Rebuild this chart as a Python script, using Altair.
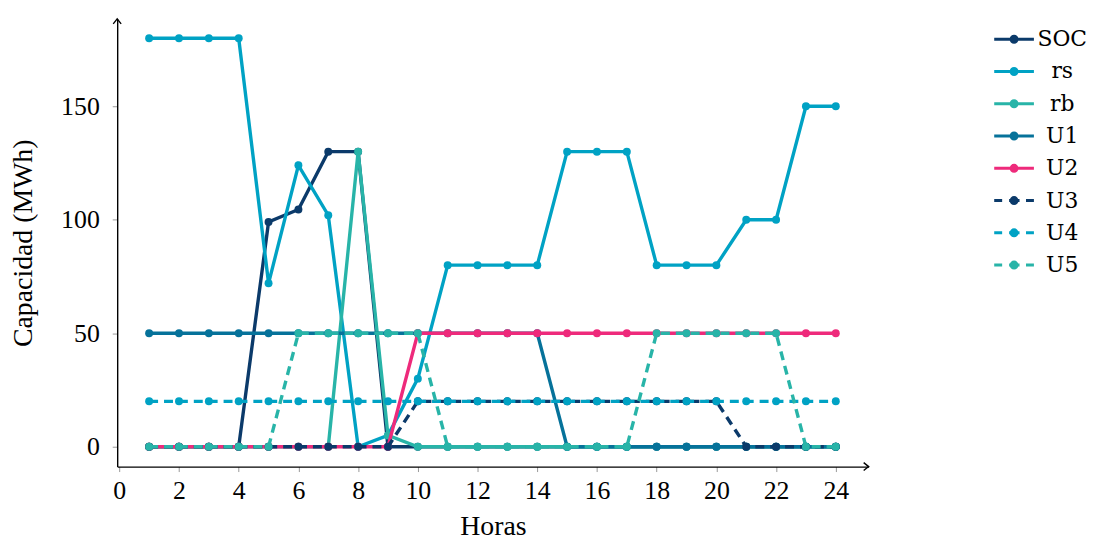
import altair as alt
import pandas as pd

# ---------------- data ----------------
hours = list(range(1, 25))
series_names = ["SOC", "rs", "rb", "U1", "U2", "U3", "U4", "U5"]

soc = [0, 0, 0, 0, 99, 104.5, 130, 130, 0, 0, 0, 0, 0, 0, 0, 0, 0, 0, 0, 0, 0, 0, 0, 0]
rs = [180, 180, 180, 180, 72, 124, 102, 0, 5, 30, 80, 80, 80, 80, 130, 130, 130, 80, 80, 80, 100, 100, 150, 150]
rb = [0, 0, 0, 0, 0, 0, 0, 130, 5, 0, 0, 0, 0, 0, 0, 0, 0, 0, 0, 0, 0, 0, 0, 0]
u1 = [50, 50, 50, 50, 50, 50, 50, 50, 50, 50, 50, 50, 50, 50, 0, 0, 0, 0, 0, 0, 0, 0, 0, 0]
u2 = [0, 0, 0, 0, 0, 0, 0, 0, 0, 50, 50, 50, 50, 50, 50, 50, 50, 50, 50, 50, 50, 50, 50, 50]
u3 = [0, 0, 0, 0, 0, 0, 0, 0, 0, 20, 20, 20, 20, 20, 20, 20, 20, 20, 20, 20, 0, 0, 0, 0]
u4 = [20, 20, 20, 20, 20, 20, 20, 20, 20, 20, 20, 20, 20, 20, 20, 20, 20, 20, 20, 20, 20, 20, 20, 20]
u5 = [0, 0, 0, 0, 0, 50, 50, 50, 50, 50, 0, 0, 0, 0, 0, 0, 0, 50, 50, 50, 50, 50, 0, 0]

series_values = [soc, rs, rb, u1, u2, u3, u4, u5]
series_colors = ["#0b3a6a", "#00a2c4", "#28b4a8", "#06729a", "#ee2a7b", "#0b3a6a", "#00a2c4", "#28b4a8"]
series_dashed = [False, False, False, False, False, True, True, True]

x_ticks = list(range(0, 25, 2))
y_ticks = [0, 50, 100, 150]
x_domain = [-0.07, 25.1]
y_domain = [-8.75, 188.5]

# ---------------- table ----------------
rows = []
for name, vals in zip(series_names, series_values):
    for h, v in zip(hours, vals):
        rows.append({"hora": h, "valor": v, "serie": name})
df = pd.DataFrame(rows)

TICK_FONT = "Liberation Serif"
LEG_FONT = "DejaVu Serif"

dot = ("M-0.3,0A0.3,0.3 0 1,1 0.3,0A0.3,0.3 0 1,1 -0.3,0 "
       "M-0.1,0A0.1,0.1 0 1,1 0.1,0A0.1,0.1 0 1,1 -0.1,0")
solid_path = "M-2,0L2,0 " + dot
dashed_path = "M-2,0L-1.2,0 M-0.5,0L0.55,0 M1.2,0L2,0 " + dot
legend_shapes = [dashed_path if d else solid_path for d in series_dashed]

legend = alt.Legend(
    title=None,
    orient="none",
    legendX=892,
    legendY=9,
    padding=0,
    symbolSize=400,
    symbolStrokeWidth=3,
    symbolOpacity=1,
    symbolFillColor="transparent",
    labelFont=LEG_FONT,
    labelFontSize=22,
    labelColor="#000000",
    labelAlign="center",
    labelOffset=37,
    rowPadding=9.5,
)

color = alt.Color("serie:N", scale=alt.Scale(domain=series_names, range=series_colors), legend=legend)
shape = alt.Shape("serie:N", scale=alt.Scale(domain=series_names, range=legend_shapes), legend=legend)

x_enc = alt.X(
    "hora:Q",
    scale=alt.Scale(domain=x_domain, nice=False, zero=False),
    axis=alt.Axis(
        values=x_ticks, format="d", title="Horas",
        titleFont=TICK_FONT, titleFontSize=28, titleFontWeight="normal", titleColor="#000000",
        titleBaseline="alphabetic", titleY=68,
        labelFont=TICK_FONT, labelFontSize=26, labelColor="#000000",
        labelBaseline="alphabetic", labelPadding=27, labelFlush=False,
        tickSize=5, tickColor="#999999", tickWidth=1,
        domainColor="#000000", domainWidth=1.4, grid=False,
    ),
)
y_enc = alt.Y(
    "valor:Q",
    scale=alt.Scale(domain=y_domain, nice=False, zero=False),
    axis=alt.Axis(
        values=y_ticks, format="d", title="Capacidad (MWh)",
        titleFont=TICK_FONT, titleFontSize=28, titleFontWeight="normal", titleColor="#000000",
        titleBaseline="alphabetic", titleAngle=270, titleAlign="center",
        titleX=-86, titleY=225.5,
        labelFont=TICK_FONT, labelFontSize=26, labelColor="#000000",
        labelPadding=13, labelFlush=False,
        tickSize=5, tickColor="#999999", tickWidth=1,
        domainColor="#000000", domainWidth=1.4, grid=False,
    ),
)

layers = []
for name, dashed in zip(series_names, series_dashed):
    base = alt.Chart(df).transform_filter(alt.datum.serie == name)
    line_kwargs = dict(strokeWidth=3.4)
    if dashed:
        line_kwargs["strokeDash"] = [9, 6]
    layers.append(base.mark_line(**line_kwargs).encode(x=x_enc, y=y_enc, color=color, order="hora:Q"))
    layers.append(base.mark_circle(size=64, opacity=1).encode(x=x_enc, y=y_enc, color=color))

# legend carrier: the real rows, drawn fully transparent, carrying the shape scale for the legend
legend_layer = alt.Chart(df).mark_point(
    filled=False, strokeWidth=3, strokeOpacity=0, fillOpacity=0
).encode(x=x_enc, y=y_enc, color=color, shape=shape)

# axis arrow heads, placed at the ends of the scale domains
arrow_x = alt.Chart(pd.DataFrame({"hora": [x_domain[1]], "valor": [y_domain[0]]})).mark_point(
    shape="M-1,-0.8L0,0L-1,0.8", size=100, filled=False, stroke="#000000", strokeWidth=1.4, opacity=1
).encode(x=alt.X("hora:Q"), y=alt.Y("valor:Q"))
arrow_y = alt.Chart(pd.DataFrame({"hora": [x_domain[0]], "valor": [y_domain[1]]})).mark_point(
    shape="M-0.8,1L0,0L0.8,1", size=100, filled=False, stroke="#000000", strokeWidth=1.4, opacity=1
).encode(x=alt.X("hora:Q"), y=alt.Y("valor:Q"))

chart = alt.layer(legend_layer, *layers, arrow_x, arrow_y).properties(
    width=757,
    height=451,
    padding={"left": 110, "top": 9, "right": 223, "bottom": 75},
    autosize=alt.AutoSizeParams(type="none"),
    background="#ffffff",
).configure_view(stroke=None)

chart.save("out.html", embed_options={"renderer": "svg", "actions": False})
